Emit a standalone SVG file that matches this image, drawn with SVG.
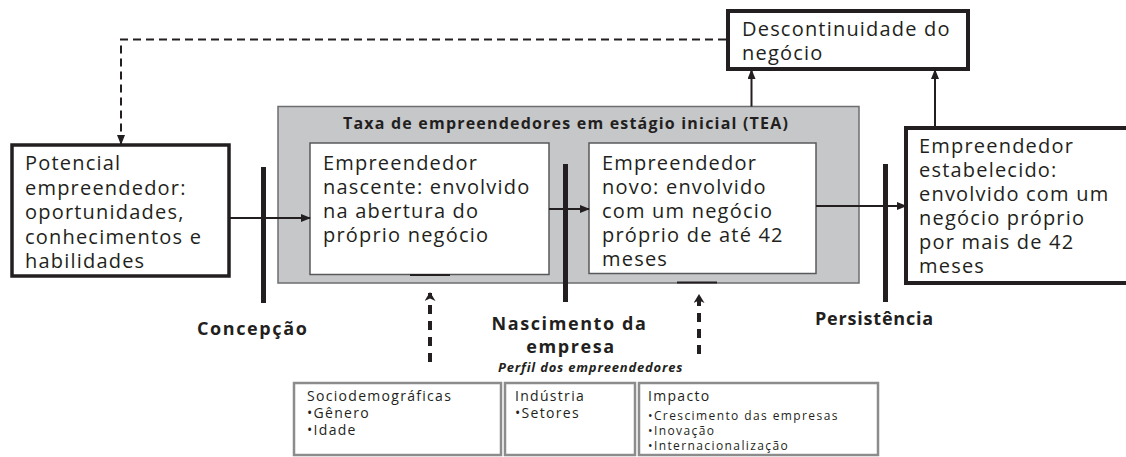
<svg xmlns="http://www.w3.org/2000/svg" width="1126" height="457" viewBox="0 0 1126 457">
<style>
.t{font-family:"Open Sans","Liberation Sans",sans-serif;font-size:20px;letter-spacing:1.2px;fill:#231f20}
.b{font-family:"Open Sans","Liberation Sans",sans-serif;font-weight:bold;fill:#231f20}
.lbl{font-size:18px;letter-spacing:1.6px}
.s{font-family:"Open Sans","Liberation Sans",sans-serif;font-size:14px;letter-spacing:1.3px;fill:#231f20}
.xs{font-size:12px;letter-spacing:1.4px}
.thick{fill:#fff;stroke:#231f20;stroke-width:4}
.inner{fill:#fff;stroke:#58595b;stroke-width:1.5}
.cell{fill:#fff;stroke:#8c8c8c;stroke-width:2.5}
.conn{stroke:#231f20;stroke-width:2;fill:none}
.dash{stroke:#231f20;stroke-width:2;fill:none;stroke-dasharray:8 5}
.tdash{stroke:#231f20;stroke-width:4;fill:none;stroke-dasharray:9 7}
.bar{stroke:#231f20;stroke-width:5}
</style>
<defs>
<marker id="ah" markerWidth="10" markerHeight="8" refX="9" refY="4" orient="auto" markerUnits="userSpaceOnUse"><path d="M0,0 L10,4 L0,8 z" fill="#231f20"/></marker>
<marker id="ahb" markerWidth="10" markerHeight="11" refX="8" refY="5.5" orient="auto" markerUnits="userSpaceOnUse"><path d="M0,0 L9,5.5 L0,11 L2.5,5.5 z" fill="#231f20"/></marker>
</defs>

<g id="tea">
<rect x="278" y="106.5" width="581" height="176.5" fill="#c6c7c9" stroke="#6d6e71" stroke-width="1.5"/>
<text class="b" x="343" y="129" style="font-size:16px;letter-spacing:1.2px">Taxa de empreendedores em estágio inicial (TEA)</text>
</g>

<g id="nascente">
<rect class="inner" x="310" y="143" width="239" height="131.5"/>
<text class="t" x="323" y="170">Empreendedor</text>
<text class="t" x="323" y="194">nascente: envolvido</text>
<text class="t" x="323" y="218">na abertura do</text>
<text class="t" x="323" y="242">próprio negócio</text>
</g>

<g id="novo">
<rect class="inner" x="589" y="143" width="227" height="130.5"/>
<text class="t" x="602" y="170">Empreendedor</text>
<text class="t" x="602" y="194">novo: envolvido</text>
<text class="t" x="602" y="218">com um negócio</text>
<text class="t" x="602" y="242">próprio de até 42</text>
<text class="t" x="602" y="266">meses</text>
</g>

<g id="potencial">
<rect x="12" y="145" width="217" height="131" fill="#fff" stroke="#231f20" stroke-width="3.5"/>
<text class="t" x="25" y="170">Potencial</text>
<text class="t" x="25" y="194.5">empreendedor:</text>
<text class="t" x="25" y="219">oportunidades,</text>
<text class="t" x="25" y="243.5">conhecimentos e</text>
<text class="t" x="25" y="268">habilidades</text>
</g>

<g id="descontinuidade">
<rect class="thick" x="728" y="11" width="240" height="58"/>
<text class="t" x="742" y="36">Descontinuidade do</text>
<text class="t" x="742" y="60">negócio</text>
</g>

<g id="estabelecido">
<rect class="thick" x="906" y="128" width="240" height="155"/>
<text class="t" x="919" y="153">Empreendedor</text>
<text class="t" x="919" y="177">estabelecido:</text>
<text class="t" x="919" y="201">envolvido com um</text>
<text class="t" x="919" y="225">negócio próprio</text>
<text class="t" x="919" y="249">por mais de 42</text>
<text class="t" x="919" y="273">meses</text>
</g>

<g id="perfil">
<text class="b" x="498" y="372" style="font-size:13px;font-style:italic;letter-spacing:0.8px">Perfil dos empreendedores</text>
<rect class="cell" x="294" y="383" width="207" height="72"/>
<text class="s" x="307" y="401">Sociodemográficas</text>
<text class="s" x="307" y="418">•Gênero</text>
<text class="s" x="307" y="435">•Idade</text>
<rect class="cell" x="505" y="383" width="130" height="72"/>
<text class="s" x="515" y="401">Indústria</text>
<text class="s" x="515" y="418">•Setores</text>
<rect class="cell" x="639" y="383" width="239" height="72"/>
<text class="s" x="648" y="401">Impacto</text>
<text class="s xs" x="648" y="420">•Crescimento das empresas</text>
<text class="s xs" x="648" y="435">•Inovação</text>
<text class="s xs" x="648" y="450">•Internacionalização</text>
</g>

<g id="marcos">
<line class="bar" x1="263.5" y1="167" x2="263.5" y2="303"/>
<line class="bar" x1="565.5" y1="164" x2="565.5" y2="302"/>
<line class="bar" x1="885.5" y1="164" x2="885.5" y2="302"/>
<text class="b lbl" x="197" y="335">Concepção</text>
<text class="b lbl" x="569.5" y="330" text-anchor="middle">Nascimento da</text>
<text class="b lbl" x="571" y="353" text-anchor="middle">empresa</text>
<text class="b lbl" x="815" y="325" style="letter-spacing:0.8px">Persistência</text>
</g>

<g id="connectors">
<line class="conn" x1="229" y1="218" x2="310" y2="218" marker-end="url(#ah)"/>
<line class="conn" x1="549" y1="209" x2="589" y2="209" marker-end="url(#ah)"/>
<line class="conn" x1="816" y1="206" x2="906" y2="206" marker-end="url(#ah)"/>
<line class="conn" x1="751.5" y1="106.5" x2="751.5" y2="70" marker-end="url(#ah)"/>
<line class="conn" x1="935" y1="128" x2="935" y2="70" marker-end="url(#ah)"/>
<path class="dash" d="M726,39.5 H121 V144" marker-end="url(#ah)"/>
<path class="tdash" d="M430,362 V293" marker-end="url(#ahb)"/>
<path class="tdash" d="M699,354 V295" marker-end="url(#ahb)"/>
<line x1="410" y1="275" x2="450" y2="275" stroke="#231f20" stroke-width="2"/>
<line x1="677" y1="282.5" x2="717" y2="282.5" stroke="#231f20" stroke-width="2"/>
</g>
</svg>
